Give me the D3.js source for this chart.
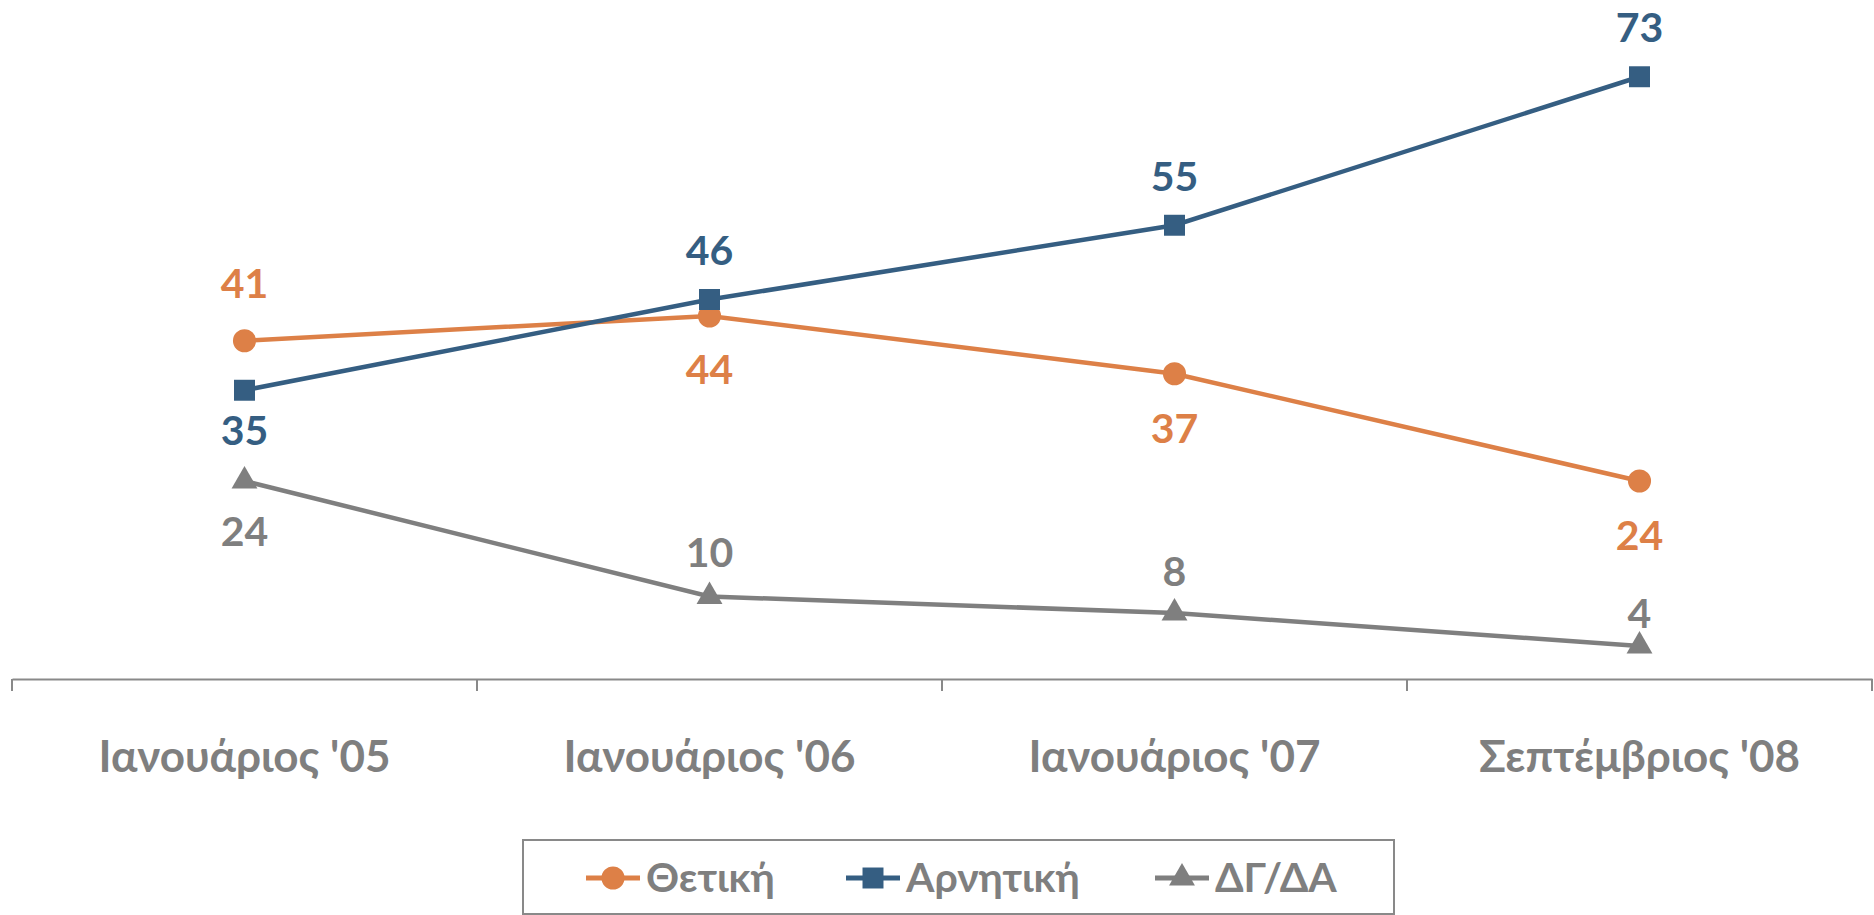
<!DOCTYPE html>
<html><head><meta charset="utf-8">
<script src="https://cdn.jsdelivr.net/npm/d3@7"></script>
<style>body{margin:0;background:#fff}svg{display:block}</style>
</head><body><svg id="c" width="1874" height="915"></svg>
<script>
const categories = ["Ιανουάριος '05", "Ιανουάριος '06", "Ιανουάριος '07", "Σεπτέμβριος '08"];
const seriesNames = ["Θετική", "Αρνητική", "ΔΓ/ΔΑ"];
const positive = [41, 44, 37, 24];
const negative = [35, 46, 55, 73];
const dkna = [24, 10, 8, 4];
// label placement offsets (px), layout only
const labelOffset = [[-58, 53, 54, 54], [40, -49, -49, -50], [50, -44, -42, -33]];

const colors = ["#DD8047", "#355E82", "#7F7F7F"];
const shapes = [d3.symbolCircle, d3.symbolSquare, d3.symbolTriangle];
const sizes = [420, 440, 290];
const font = "Lato, 'Open Sans', sans-serif";

const svg = d3.select("#c");
const x = d3.scaleBand().domain(categories).range([12, 1872]).padding(0);
const y = d3.scaleLinear().domain([0, 80]).range([679, 19]);
const cx = c => x(c) + x.bandwidth() / 2;

// axis
const ax = svg.append("g").attr("transform", "translate(0,679)")
  .call(d3.axisBottom(x).tickSize(0).tickPadding(0));
ax.select(".domain").attr("stroke", "#898989").attr("stroke-width", 2);
ax.selectAll("text").attr("font-family", font).attr("font-weight", "bold")
  .attr("font-size", 44).attr("fill", "#7F7F7F").attr("y", 78).attr("dy", "0.35em");
const bounds = categories.map(c => x(c)).concat([x(categories[categories.length - 1]) + x.bandwidth()]);
ax.selectAll(".bt").data(bounds).enter().append("line")
  .attr("x1", d => d).attr("x2", d => d).attr("y1", 0).attr("y2", 12)
  .attr("stroke", "#898989").attr("stroke-width", 2);

const data = [positive, negative, dkna];
const line = d3.line().x((d, i) => cx(categories[i])).y(d => y(d));
data.forEach((vals, s) => {
  const g = svg.append("g");
  g.append("path").datum(vals).attr("d", line).attr("fill", "none")
    .attr("stroke", colors[s]).attr("stroke-width", 4.5);
  g.selectAll("path.m").data(vals).enter().append("path").attr("class", "m")
    .attr("d", d3.symbol().type(shapes[s]).size(sizes[s]))
    .attr("transform", (d, i) => `translate(${cx(categories[i])},${y(d)})`)
    .attr("fill", colors[s]);
  g.selectAll("text").data(vals).enter().append("text")
    .attr("x", (d, i) => cx(categories[i]))
    .attr("y", (d, i) => y(d) + labelOffset[s][i])
    .attr("dy", "0.36em")
    .attr("text-anchor", "middle")
    .attr("font-family", font).attr("font-weight", "bold").attr("font-size", 41)
    .attr("fill", colors[s]).text(d => d);
});

// legend
const lg = svg.append("g");
lg.append("rect").attr("x", 523).attr("y", 840).attr("width", 871).attr("height", 74)
  .attr("fill", "none").attr("stroke", "#898989").attr("stroke-width", 2);
const lx = [586, 846, 1155];
seriesNames.forEach((n, s) => {
  const g = lg.append("g").attr("transform", `translate(${lx[s]},878)`);
  g.append("line").attr("x1", 0).attr("x2", 54).attr("stroke", colors[s]).attr("stroke-width", 5);
  g.append("path").attr("d", d3.symbol().type(shapes[s]).size(sizes[s]))
    .attr("transform", "translate(27,0)").attr("fill", colors[s]);
  g.append("text").attr("x", 60).attr("dy", "0.35em").attr("font-family", font)
    .attr("font-weight", "bold").attr("font-size", 41).attr("fill", "#7F7F7F").text(n);
});
</script></body></html>
